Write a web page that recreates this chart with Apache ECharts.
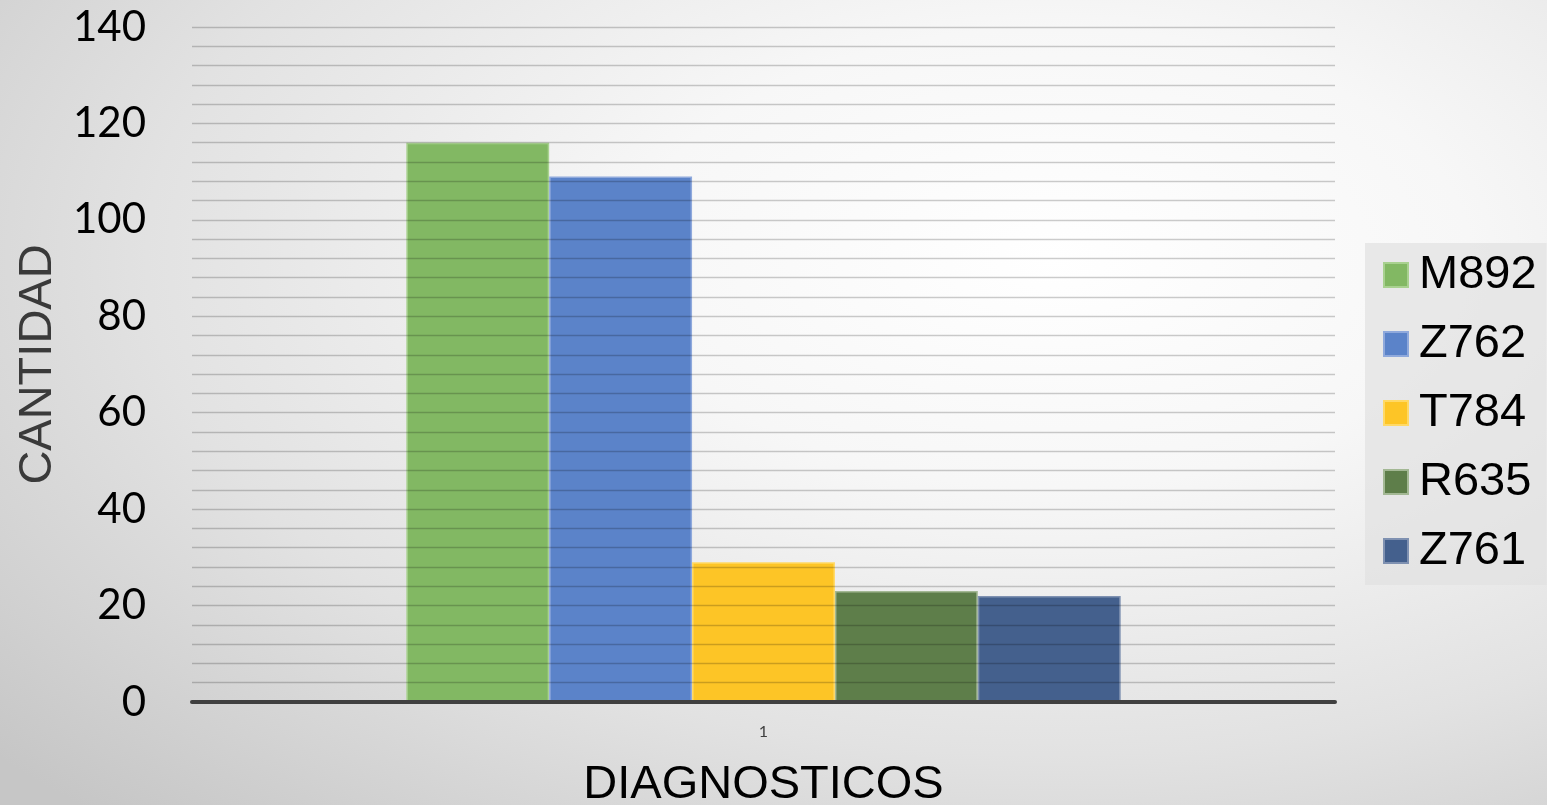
<!DOCTYPE html>
<html>
<head>
<meta charset="utf-8">
<script src="https://cdn.jsdelivr.net/npm/echarts@6/dist/echarts.min.js"></script>
<style>
html,body{margin:0;padding:0;}
#chart{width:1547px;height:805px;background:radial-gradient(ellipse 90% 95% at 68% 32%, #ffffff 0%, #f7f7f7 30%, #e2e2e2 65%, #c6c6c6 100%);}
</style>
</head>
<body>
<div id="chart"></div>
<script>
const categories = ['1'];
const seriesNames = ['M892', 'Z762', 'T784', 'R635', 'Z761'];
const seriesValues = [[116], [109], [29], [23], [22]];
const seriesColors = ['#82b863', '#5b83c9', '#fdc526', '#5e7e4a', '#44608d'];
const borderColors = ['#a8d18f', '#8fa9dc', '#ffd966', '#a3b894', '#7f91b1'];
const yTickLabels = [0, 20, 40, 60, 80, 100, 120, 140];

const chart = echarts.init(document.getElementById('chart'));
chart.setOption({
  backgroundColor: 'transparent',
  animation: false,
  grid: {left: 192, right: 212, top: 27, bottom: 103, containLabel: false, outerBoundsMode: 'none'},
  legend: {
    orient: 'vertical', left: 1365, top: 243,
    backgroundColor: 'rgba(225,225,225,0.7)',
    padding: [8, 10, 10, 18],
    itemWidth: 24, itemHeight: 24, itemGap: 21,
    icon: 'rect',
    textStyle: {fontFamily: 'Liberation Sans', fontSize: 47, lineHeight: 48, color: '#000', padding: [0, 0, 0, 6]},
    data: seriesNames
  },
  xAxis: {
    type: 'category', data: categories,
    name: 'DIAGNOSTICOS', nameLocation: 'middle', nameGap: 60,
    nameTextStyle: {fontFamily: 'Liberation Sans', fontSize: 47, color: '#000'},
    axisLine: {lineStyle: {color: '#404040', width: 4}},
    axisTick: {show: false},
    axisLabel: {fontFamily: 'Lato', fontSize: 16, color: '#404040', margin: 22},
    z: 6
  },
  yAxis: {
    type: 'value', min: 0, max: 140, interval: 4,
    name: 'CANTIDAD', nameLocation: 'middle', nameGap: 130, nameRotate: 90,
    nameTextStyle: {fontFamily: 'Liberation Sans', fontSize: 47, color: '#3a3a3a'},
    axisLine: {show: false}, axisTick: {show: false},
    axisLabel: {
      fontFamily: 'Lato', fontSize: 42, color: '#000', margin: 46,
      formatter: v => yTickLabels.includes(v) ? String(v) : ''
    },
    splitLine: {lineStyle: {color: 'rgba(0,0,0,0.2)', width: 1.3}},
    z: 5
  },
  series: seriesNames.map((n, i) => ({
    name: n, type: 'bar', data: seriesValues[i],
    barGap: '0%', barCategoryGap: '37.5%',
    itemStyle: {color: seriesColors[i], borderColor: borderColors[i], borderWidth: 1.5}
  }))
});
</script>
</body>
</html>
